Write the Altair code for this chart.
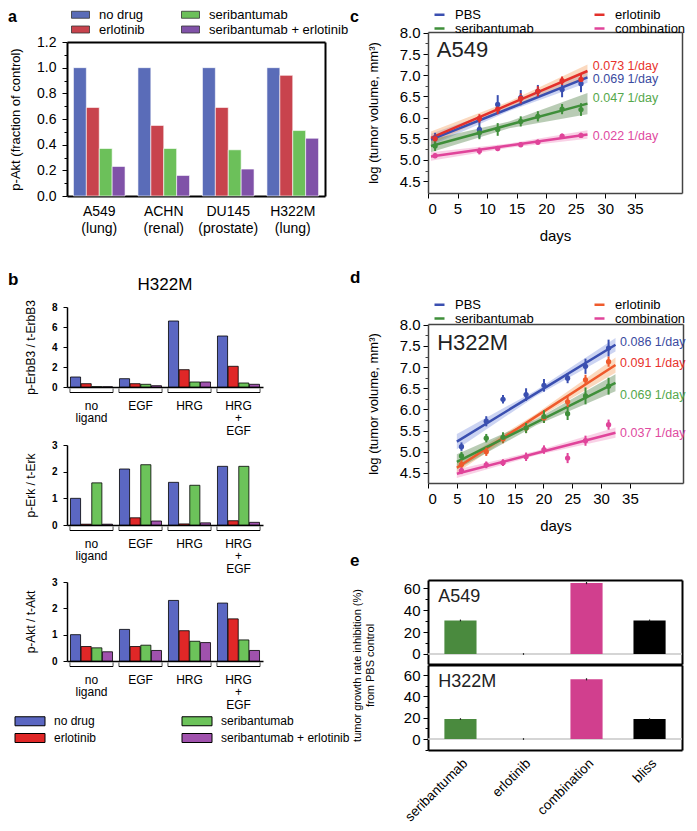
import altair as alt
import pandas as pd

W, H = 681, 815
FONT = "Liberation Sans"

# ---------------- panel a ----------------
a_cells = ["A549|(lung)", "ACHN|(renal)", "DU145|(prostate)", "H322M|(lung)"]
drugs = ["no drug", "erlotinib", "seribantumab", "seribantumab + erlotinib"]
a_no_drug = [1.0, 1.0, 1.0, 1.0]
a_erlotinib = [0.69, 0.55, 0.69, 0.94]
a_seribantumab = [0.37, 0.37, 0.36, 0.51]
a_combination = [0.23, 0.16, 0.21, 0.45]
a_colors = ["#5a6cb8", "#c8434d", "#6cc05a", "#8052a8"]
a_yticks = [0.0, 0.2, 0.4, 0.6, 0.8, 1.0, 1.2]
a_minor = [0.1, 0.3, 0.5, 0.7, 0.9, 1.1]

# ---------------- panel b ----------------
b_groups = ["no|ligand", "EGF", "HRG", "HRG|+|EGF"]
b_colors = ["#5b67c2", "#e02727", "#6cc35a", "#a052ad"]
erbb3_no_drug = [1.0, 0.83, 6.6, 5.1]
erbb3_erlotinib = [0.33, 0.33, 1.73, 2.07]
erbb3_seribantumab = [0.03, 0.27, 0.5, 0.4]
erbb3_combination = [0.02, 0.13, 0.5, 0.27]
erk_no_drug = [1.0, 2.1, 1.6, 2.2]
erk_erlotinib = [0.03, 0.27, 0.04, 0.16]
erk_seribantumab = [1.58, 2.26, 1.49, 2.2]
erk_combination = [0.03, 0.15, 0.08, 0.1]
akt_no_drug = [1.0, 1.2, 2.3, 2.2]
akt_erlotinib = [0.55, 0.55, 1.15, 1.6]
akt_seribantumab = [0.5, 0.6, 0.75, 0.8]
akt_combination = [0.35, 0.4, 0.7, 0.4]

# ---------------- panels c / d ----------------
series = ["PBS", "erlotinib", "seribantumab", "combination"]
series_legend = ["PBS", "seribantumab", "erlotinib", "combination"]
cd_yticks = [4.5, 5.0, 5.5, 6.0, 6.5, 7.0, 7.5, 8.0]
cd_minor = [4.75, 5.25, 5.75, 6.25, 6.75, 7.25, 7.75]
c_days = [1.2, 8.7, 11.8, 15.7, 18.6, 22.7, 25.9]
c_pbs = [5.52, 5.72, 6.31, 6.47, 6.62, 6.66, 6.80]
c_pbs_err = [0.12, 0.2, 0.22, 0.18, 0.15, 0.18, 0.2]
c_erl = [5.50, 5.98, 6.20, 6.45, 6.62, 6.87, 6.90]
c_erl_err = [0.1, 0.1, 0.12, 0.12, 0.12, 0.1, 0.15]
c_ser = [5.33, 5.64, 5.72, 5.91, 6.03, 6.20, 6.19]
c_ser_err = [0.12, 0.15, 0.15, 0.12, 0.12, 0.12, 0.15]
c_comb = [5.10, 5.21, 5.27, 5.36, 5.42, 5.56, 5.58]
c_comb_err = [0.06, 0.08, 0.06, 0.06, 0.06, 0.06, 0.06]
c_fit_days = [0.5, 13.75, 27.0]
c_pbs_fit = [5.48, 6.215, 6.95]
c_erl_fit = [5.52, 6.31, 7.10]
c_ser_fit = [5.33, 5.83, 6.33]
c_comb_fit = [5.08, 5.34, 5.60]
c_pbs_hw = [0.14, 0.06, 0.13]
c_erl_hw = [0.15, 0.07, 0.15]
c_ser_hw = [0.15, 0.08, 0.25]
c_comb_hw = [0.10, 0.05, 0.10]
c_rates = ["0.069 1/day", "0.073 1/day", "0.047 1/day", "0.022 1/day"]
c_rate_y = [6.90, 7.21, 6.47, 5.56]
c_rate_day = 27.9

d_days = [5.8, 10.1, 13.0, 17.0, 20.1, 24.2, 27.3, 31.3]
d_pbs = [5.12, 5.72, 6.24, 6.35, 6.57, 6.74, 7.02, 7.45]
d_pbs_err = [0.1, 0.12, 0.1, 0.15, 0.15, 0.12, 0.18, 0.2]
d_erl = [4.70, 5.00, 5.30, 5.56, 5.80, 6.18, 6.70, 7.13]
d_erl_err = [0.1, 0.1, 0.1, 0.12, 0.12, 0.12, 0.12, 0.12]
d_ser = [4.90, 5.32, 5.34, 5.56, 5.83, 5.90, 6.32, 6.55]
d_ser_err = [0.1, 0.1, 0.12, 0.12, 0.15, 0.15, 0.2, 0.2]
d_comb = [4.55, 4.69, 4.74, 4.88, 5.05, 4.85, 5.26, 5.64]
d_comb_err = [0.08, 0.08, 0.08, 0.1, 0.1, 0.12, 0.12, 0.12]
d_fit_days = [5.0, 18.75, 32.5]
d_pbs_fit = [5.24, 6.385, 7.53]
d_erl_fit = [4.62, 5.835, 7.05]
d_ser_fit = [4.76, 5.695, 6.63]
d_comb_fit = [4.48, 4.965, 5.45]
d_pbs_hw = [0.18, 0.07, 0.16]
d_erl_hw = [0.12, 0.06, 0.18]
d_ser_hw = [0.18, 0.07, 0.20]
d_comb_hw = [0.10, 0.05, 0.12]
d_rates = ["0.086 1/day", "0.091 1/day", "0.069 1/day", "0.037 1/day"]
d_rate_y = [7.6, 7.1, 6.35, 5.45]
d_rate_day = 33.3

c_line_colors = ["#3a4fb0", "#e3302a", "#3f8f3a", "#e0449a"]
d_line_colors = ["#3a4fb0", "#ef5a2c", "#3f8f3a", "#e0449a"]
band_colors = ["#7f93de", "#f4a060", "#4f7f45", "#f08cc0"]
text_colors = ["#3a4aa0", "#e8322c", "#55a84c", "#e04aa0"]

# ---------------- panel e ----------------
e_treat = ["seribantumab", "erlotinib", "combination", "bliss"]
e_a549 = [30.5, 0.0, 64.5, 30.5]
e_a549_err = [0.8, 0.8, 1.0, 0.8]
e_h322m = [18.7, 0.0, 56.0, 18.7]
e_h322m_err = [0.8, 0.8, 1.0, 0.8]
e_colors = ["#4a8a3e", "#777777", "#d13f8e", "#000000"]
e_yticks = [0, 20, 40, 60]
e_minor = [-10, 10, 30, 50]


def ax(orient, offset, **kw):
    d = dict(orient=orient, offset=offset, grid=False, labelFont=FONT, titleFont=FONT,
             domainColor="black", tickColor="black", labelColor="black", titleColor="black",
             titleFontWeight="normal")
    d.update(kw)
    return alt.Axis(**d)


def frame_parts(xr, yr, ydom, color, width):
    fdf = pd.DataFrame({"fx": [0.0, 1.0], "fy": [ydom[0], ydom[1]]})
    xs = alt.Scale(domain=[0, 1], range=xr, nice=False, zero=False)
    ys = alt.Scale(domain=ydom, range=yr, nice=False, zero=False)
    xa = ax("top", -yr[1], labels=False, ticks=False, title=None, domainColor=color, domainWidth=width)
    ya = ax("right", xr[1] - W, labels=False, ticks=False, title=None, domainColor=color,
            domainWidth=width)
    pts = alt.Chart(fdf).mark_point(opacity=0).encode(
        x=alt.X("fx:Q", scale=xs, axis=xa), y=alt.Y("fy:Q", scale=ys, axis=ya))
    return pts, fdf, xs, ys, xa, ya


def minor_ticks(xr, yr, ydom, minor, color="black"):
    """extra left axis carrying only the small intermediate ticks"""
    fdf = pd.DataFrame({"fx": [0.0, 1.0], "fy": [ydom[0], ydom[1]]})
    return alt.Chart(fdf).mark_point(opacity=0).encode(
        x=alt.X("fx:Q", scale=alt.Scale(domain=[0, 1], range=xr, nice=False, zero=False), axis=None),
        y=alt.Y("fy:Q", scale=alt.Scale(domain=ydom, range=yr, nice=False, zero=False),
                axis=ax("left", -xr[0], values=minor, labels=False, domain=False, tickSize=3,
                        tickColor=color, title=None)))


# ---------- panel a ----------
rows = []
for drug, vals in zip(drugs, [a_no_drug, a_erlotinib, a_seribantumab, a_combination]):
    for c, v in zip(a_cells, vals):
        rows.append({"cell": c, "drug": drug, "value": v})
df_a = pd.DataFrame(rows)
A_XR, A_YR = [59, 317], [188, 34]
a_bars = alt.Chart(df_a).mark_bar(stroke="#ffffff", strokeWidth=0.6).encode(
    x=alt.X("cell:N", title=None,
            scale=alt.Scale(domain=a_cells, range=A_XR, paddingInner=0.2, paddingOuter=0.1),
            axis=ax("bottom", A_YR[0] - H, ticks=False, labelAngle=0,
                    labelExpr="split(datum.label, '|')", labelFontSize=14, labelPadding=8,
                    labelLineHeight=17, domainWidth=2)),
    xOffset=alt.XOffset("drug:N", scale=alt.Scale(domain=drugs, paddingInner=0, paddingOuter=0)),
    y=alt.Y("value:Q", scale=alt.Scale(domain=[0, 1.2], range=A_YR, nice=False, zero=False),
            axis=ax("left", -A_XR[0], values=a_yticks, format=".1f", labelFontSize=14, tickSize=5,
                    labelPadding=6, title="p-Akt (fraction of control)", titleFontSize=13,
                    titlePadding=14, domainWidth=2)),
    color=alt.Color("drug:N", scale=alt.Scale(domain=drugs, range=a_colors),
                    legend=alt.Legend(orient="none", legendX=66, legendY=0, columns=2, title=None,
                                      symbolType="M-1.8,-0.7H1.8V0.7H-1.8Z", symbolSize=100,
                                      symbolStrokeColor="#333333", symbolStrokeWidth=0.8,
                                      labelFontSize=13, labelFont=FONT, columnPadding=34,
                                      rowPadding=1, labelOffset=12, padding=0)),
)
a_frame = frame_parts(A_XR, A_YR, [0, 1.2], "black", 2)[0]
a_minor_layer = minor_ticks(A_XR, A_YR, [0, 1.2], a_minor)


# ---------- panel b ----------
def b_layer(lists, yr, ydom, yticks, ytitle, legend):
    rows = []
    for drug, vals in zip(drugs, lists):
        for g, v in zip(b_groups, vals):
            rows.append({"grp": g, "drug": drug, "value": v})
    df = pd.DataFrame(rows)
    xs = alt.Scale(domain=b_groups, range=[59, 255], paddingInner=0.12, paddingOuter=0.06)
    xa = ax("bottom", yr[0] - H, ticks=False, labelAngle=0, labelExpr="split(datum.label, '|')",
            labelFontSize=12, labelPadding=13, labelLineHeight=12.5, domainWidth=1.5, title=None)
    bars = alt.Chart(df).mark_bar(stroke="black", strokeWidth=0.8).encode(
        x=alt.X("grp:N", scale=xs, axis=xa),
        xOffset=alt.XOffset("drug:N", scale=alt.Scale(domain=drugs, paddingInner=0.05, paddingOuter=0.05)),
        y=alt.Y("value:Q", scale=alt.Scale(domain=ydom, range=yr, nice=False, zero=False),
                axis=ax("left", -59, values=yticks, format="d", labelFontSize=10, labelFontWeight="bold",
                        tickSize=4, labelPadding=6, domainWidth=1.5, title=ytitle, titleFontSize=12,
                        titlePadding=14)),
        color=alt.Color("drug:N", scale=alt.Scale(domain=drugs, range=b_colors), legend=legend),
    )
    bdf = pd.DataFrame({"grp": b_groups})
    line = alt.Chart(bdf).mark_bar(color="black").encode(
        x=alt.X("grp:N", scale=xs, axis=xa), y=alt.value(yr[0] + 5), y2=alt.value(yr[0] + 6))
    e1 = alt.Chart(bdf).mark_tick(orient="vertical", color="black", thickness=1, size=4).encode(
        x=alt.X("grp:N", scale=xs, bandPosition=0, axis=xa), y=alt.value(yr[0] + 3.5))
    e2 = alt.Chart(bdf).mark_tick(orient="vertical", color="black", thickness=1, size=4).encode(
        x=alt.X("grp:N", scale=xs, bandPosition=1, axis=xa), y=alt.value(yr[0] + 3.5))
    return alt.layer(bars, line, e1, e2)


b_legend = alt.Legend(orient="none", legendX=16, legendY=707, columns=2, title=None,
                      symbolType="M-3,-0.9H3V0.9H-3Z", symbolSize=100, symbolStrokeColor="black",
                      symbolStrokeWidth=1, labelFontSize=12, labelFont=FONT, columnPadding=83,
                      rowPadding=3, labelOffset=18, padding=0)
layer_b1 = b_layer([erbb3_no_drug, erbb3_erlotinib, erbb3_seribantumab, erbb3_combination],
                   [379, 299], [0, 8], [0, 2, 4, 6, 8], "p-ErbB3 / t-ErbB3", None)
layer_b2 = b_layer([erk_no_drug, erk_erlotinib, erk_seribantumab, erk_combination],
                   [517, 437], [0, 3], [0, 1, 2, 3], "p-Erk / t-Erk", None)
layer_b3 = b_layer([akt_no_drug, akt_erlotinib, akt_seribantumab, akt_combination],
                   [653, 574], [0, 3], [0, 1, 2, 3], "p-Akt / t-Akt", b_legend)


# ---------- panels c / d ----------
def growth_parts(days, vals, errs, fit_days, fits, hws, line_colors, rates, rate_y, rate_day,
                 name, name_day, name_v, xr, yr, xdom, ydom, leg_xy):
    prow, frow, trow = [], [], []
    for s, v, e in zip(series, vals, errs):
        for d, vv, ee in zip(days, v, e):
            prow.append({"day": d, "v": vv, "lo": vv - ee, "hi": vv + ee, "series": s})
    for s, f, hw, bc in zip(series, fits, hws, band_colors):
        for d, ff, h in zip(fit_days, f, hw):
            frow.append({"day": d, "fit": ff, "lo": ff - h, "hi": ff + h, "series": s, "bandcol": bc})
    for t, y, tc in zip(rates, rate_y, text_colors):
        trow.append({"day": rate_day, "v": y, "t": t, "tc": tc})
    pdf, fdf, tdf = pd.DataFrame(prow), pd.DataFrame(frow), pd.DataFrame(trow)
    ndf = pd.DataFrame({"day": [name_day], "v": [name_v], "t": [name]})
    xs = alt.Scale(domain=xdom, range=xr, nice=False, zero=False)
    ys = alt.Scale(domain=ydom, range=yr, nice=False, zero=False)
    cs = alt.Scale(domain=series, range=line_colors)
    leg = alt.Legend(orient="none", legendX=leg_xy[0], legendY=leg_xy[1], columns=2, title=None,
                     values=series_legend, labelFontSize=13, labelFont=FONT, symbolType="stroke",
                     symbolSize=100, symbolStrokeWidth=2.5, columnPadding=55, rowPadding=0,
                     labelOffset=9, padding=0)
    xa = ax("bottom", yr[0] - H, values=[0, 5, 10, 15, 20, 25, 30, 35], labelFontSize=15,
            tickSize=5, labelPadding=3, title="days", titleFontSize=15, titlePadding=12,
            domainColor="#444444", domainWidth=1.5)
    ya = ax("left", -xr[0], values=cd_yticks, format=".1f",
            labelFontSize=15, tickSize=5, labelPadding=3, title="log (tumor volume, mm³)",
            titleFontSize=13, titlePadding=19, domainColor="#444444", domainWidth=1.5)
    xn = alt.X("day:Q", scale=xs, axis=xa)
    band = alt.Chart(fdf).mark_area(fillOpacity=0.4).encode(
        x=xn, y=alt.Y("lo:Q", scale=ys, axis=ya), y2="hi:Q",
        fill=alt.Fill("bandcol:N", scale=None), detail="series:N")
    line = alt.Chart(fdf).mark_line(strokeWidth=2.5).encode(
        x=xn, y=alt.Y("fit:Q", scale=ys, axis=ya),
        color=alt.Color("series:N", scale=cs, legend=leg), detail="series:N")
    err = alt.Chart(pdf).mark_rule(strokeWidth=2).encode(
        x=xn, y=alt.Y("lo:Q", scale=ys, axis=ya), y2="hi:Q",
        color=alt.Color("series:N", scale=cs, legend=leg))
    pts = alt.Chart(pdf).mark_point(filled=True, size=28, opacity=1).encode(
        x=xn, y=alt.Y("v:Q", scale=ys, axis=ya),
        color=alt.Color("series:N", scale=cs, legend=leg))
    txt = alt.Chart(tdf).mark_text(align="left", baseline="middle", fontSize=12.5, font=FONT).encode(
        x=xn, y=alt.Y("v:Q", scale=ys, axis=ya), text="t:N", fill=alt.Fill("tc:N", scale=None))
    nm = alt.Chart(ndf).mark_text(align="left", baseline="middle", fontSize=22, font=FONT,
                                  color="#222222").encode(
        x=xn, y=alt.Y("v:Q", scale=ys, axis=ya), text="t:N")
    fr = frame_parts(xr, yr, ydom, "#444444", 1.5)[0]
    mn = minor_ticks(xr, yr, ydom, cd_minor, "#444444")
    return [alt.layer(band, line, err, pts, txt, nm), fr, mn]


parts_c = growth_parts(c_days, [c_pbs, c_erl, c_ser, c_comb],
                       [c_pbs_err, c_erl_err, c_ser_err, c_comb_err], c_fit_days,
                       [c_pbs_fit, c_erl_fit, c_ser_fit, c_comb_fit],
                       [c_pbs_hw, c_erl_hw, c_ser_hw, c_comb_hw], c_line_colors,
                       c_rates, c_rate_y, c_rate_day, "A549", 1.5, 7.6,
                       [420, 674], [185, 24], [0, 43], [4.22, 8.02], [425, 0])
parts_d = growth_parts(d_days, [d_pbs, d_erl, d_ser, d_comb],
                       [d_pbs_err, d_erl_err, d_ser_err, d_comb_err], d_fit_days,
                       [d_pbs_fit, d_erl_fit, d_ser_fit, d_comb_fit],
                       [d_pbs_hw, d_erl_hw, d_ser_hw, d_comb_hw], d_line_colors,
                       d_rates, d_rate_y, d_rate_day, "H322M", 1.6, 7.58,
                       [420, 675], [475, 316], [0, 44.2], [4.26, 8.02], [425, 290])


# ---------- panel e ----------
def e_parts(vals, errs, yr, ydom, show_labels, name, name_v, ytitle):
    df = pd.DataFrame({"treat": e_treat, "v": vals,
                       "lo": [v - e for v, e in zip(vals, errs)],
                       "hi": [v + e for v, e in zip(vals, errs)], "col": e_colors})
    xs = alt.Scale(domain=e_treat, range=[420, 674], paddingInner=0.49, paddingOuter=0.26)
    ys = alt.Scale(domain=ydom, range=yr, nice=False, zero=False)
    yopt = dict(values=e_yticks, tickSize=5, labelFontSize=15, labelPadding=3, domainWidth=2)
    if ytitle:
        yopt.update(title=ytitle, titleFontSize=11, titlePadding=28, titleY=657, titleLineHeight=13)
    else:
        yopt.update(title=None)
    xa = ax("bottom", yr[0] - H, ticks=False, labels=show_labels, labelAngle=-45,
            labelFontSize=13.5, labelPadding=6, domainWidth=2, title=None)
    ya = ax("left", -420, **yopt)
    bars = alt.Chart(df).mark_bar().encode(
        x=alt.X("treat:N", scale=xs, axis=xa),
        y=alt.Y("v:Q", scale=ys, axis=ya),
        y2=alt.datum(0),
        color=alt.Color("col:N", scale=None))
    eb = alt.Chart(df).mark_rule(color="#222222", strokeWidth=1.2).encode(
        x=alt.X("treat:N", scale=xs, axis=xa), y=alt.Y("lo:Q", scale=ys, axis=ya), y2="hi:Q")
    fr, fdf, fxs, fys, fxa, fya = frame_parts([420, 674], yr, ydom, "black", 2)
    zero = alt.Chart(fdf).mark_rule(color="#c8c8c8", strokeWidth=1.2).encode(
        x=alt.XDatum(0, axis=fxa), x2=alt.X2Datum(1), y=alt.YDatum(0, axis=fya))
    ndf = pd.DataFrame({"t": [name]})
    nm = alt.Chart(ndf).mark_text(align="left", baseline="middle", fontSize=18, font=FONT,
                                  color="#222222").encode(
        x=alt.XDatum(0.04, axis=fxa), y=alt.YDatum(name_v, axis=fya), text="t:N")
    mn = minor_ticks([420, 674], yr, ydom, e_minor)
    return [alt.layer(fr, zero, nm), alt.layer(bars, eb), mn]


parts_e1 = e_parts(e_a549, e_a549_err, [656, 572], [-9.1, 67.3], False, "A549", 51.8,
                   ["tumor growth rate inhibition (%)", "from PBS control"])
parts_e2 = e_parts(e_h322m, e_h322m_err, [742, 657], [-10.3, 69.4], True, "H322M", 53.4, None)

# ---------- panel letters / titles ----------
one = pd.DataFrame({"k": [0]})


def label(txt, x, y, size=17, weight="bold", align="left", baseline="top"):
    return alt.Chart(one).mark_text(text=txt, fontSize=size, fontWeight=weight, font=FONT,
                                    align=align, baseline=baseline, color="black").encode(
        x=alt.value(x), y=alt.value(y))


letters = alt.layer(
    label("a", 0, 1, size=16), label("b", 0, 264), label("c", 342, 1, size=16), label("d", 342, 262),
    label("e", 342, 545), label("H322M", 157, 277, size=17, weight="normal", align="center",
                                baseline="middle"))

all_layers = ([a_bars, a_frame, a_minor_layer, layer_b1, layer_b2, layer_b3] + parts_c + parts_d
              + parts_e1 + parts_e2 + [letters])

chart = alt.layer(*all_layers).resolve_scale(
    x="independent", y="independent", color="independent", fill="independent",
    xOffset="independent").resolve_axis(x="independent", y="independent").resolve_legend(
    color="independent").properties(
    width=W, height=H, autosize=alt.AutoSizeParams(type="none"), padding=0
).configure_view(stroke=None).configure_axis(grid=False, labelFont=FONT, titleFont=FONT
).configure_text(font=FONT).configure_legend(labelFont=FONT)

chart.save("out.html", embed_options={"renderer": "svg", "actions": False})
